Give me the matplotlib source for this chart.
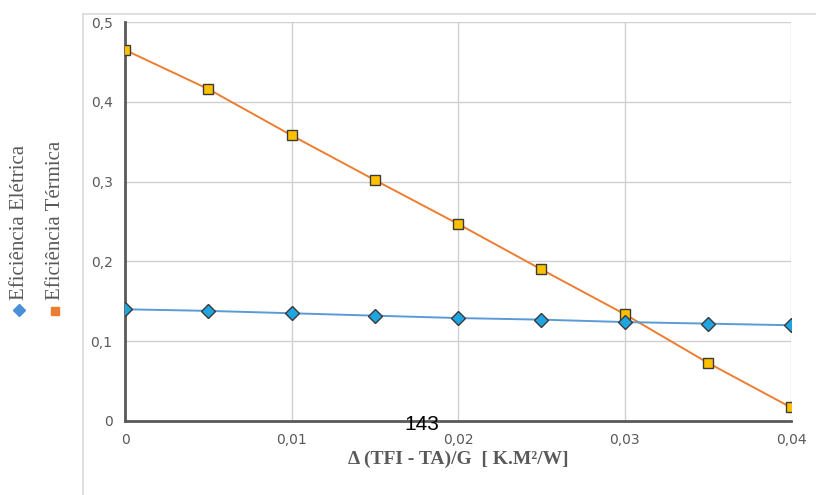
import matplotlib.pyplot as plt
from matplotlib.lines import Line2D
from matplotlib.ticker import FuncFormatter

x_vals = [0, 0.005, 0.01, 0.015, 0.02, 0.025, 0.03, 0.035, 0.04]
ef_termica = [0.465, 0.416, 0.358, 0.302, 0.247, 0.190, 0.134, 0.073, 0.017]
ef_eletrica = [0.140, 0.138, 0.135, 0.132, 0.129, 0.127, 0.124, 0.122, 0.120]

x_ticks = [0, 0.01, 0.02, 0.03, 0.04]
y_ticks = [0, 0.1, 0.2, 0.3, 0.4, 0.5]

W, H = 816, 495
fig = plt.figure(figsize=(W / 100, H / 100), dpi=100)
ax = fig.add_axes([125 / W, 1 - 421 / H, (791 - 125) / W, (421 - 22) / H])

ax.plot(x_vals, ef_termica, color="#ED7D31", lw=1.4, marker="s", ms=7,
        mfc="#FFC000", mec="#3a3a3a", mew=1.0, zorder=3)
ax.plot(x_vals, ef_eletrica, color="#5B9BD5", lw=1.4, marker="D", ms=7,
        mfc="#1FA5E0", mec="#3a3a3a", mew=1.0, zorder=4)

ax.set_xlim(0, 0.04)
ax.set_ylim(0, 0.5)
ax.set_xticks(x_ticks)
ax.set_yticks(y_ticks)
fmt = FuncFormatter(lambda v, p: "0" if v == 0 else f"{v:g}".replace(".", ","))
ax.xaxis.set_major_formatter(fmt)
ax.yaxis.set_major_formatter(fmt)
ax.tick_params(length=0, labelsize=10, labelcolor="#595959", pad=9)
ax.grid(True, color="#d0d0d0", lw=1.0)
ax.set_axisbelow(True)
for s in ["top", "right"]:
    ax.spines[s].set_visible(False)
for s in ["left", "bottom"]:
    ax.spines[s].set_color("#595959")
    ax.spines[s].set_linewidth(2)

ax.set_xlabel("Δ (TFI - TA)/G  [ K.M²/W]", family="Liberation Serif",
              fontweight="bold", fontsize=14, color="#595959", labelpad=2)

# light frame of the chart area
fig.add_artist(Line2D([83 / W, 1], [1 - 14 / H, 1 - 14 / H], color="#d9d9d9", lw=1.2))
fig.add_artist(Line2D([83 / W, 83 / W], [0, 1 - 14 / H], color="#d9d9d9", lw=1.2))

# rotated legend on the left
fig.add_artist(Line2D([19 / W], [1 - 310 / H], marker="D", ms=6, color="#4A90D9", lw=0))
fig.text(20 / W, 1 - 300 / H, "Eficiência Elétrica", rotation=90, ha="center", va="bottom",
         family="Liberation Serif", fontsize=15, color="#595959")
fig.add_artist(Line2D([55 / W], [1 - 311 / H], marker="s", ms=6, color="#ED7D31", lw=0))
fig.text(56 / W, 1 - 300 / H, "Eficiência Térmica", rotation=90, ha="center", va="bottom",
         family="Liberation Serif", fontsize=15, color="#595959")

# page number
fig.text(422 / W, 1 - 425 / H, "143", ha="center", va="center",
         family="Liberation Sans", fontsize=15, color="black")

fig.savefig("out.png", dpi=100)
